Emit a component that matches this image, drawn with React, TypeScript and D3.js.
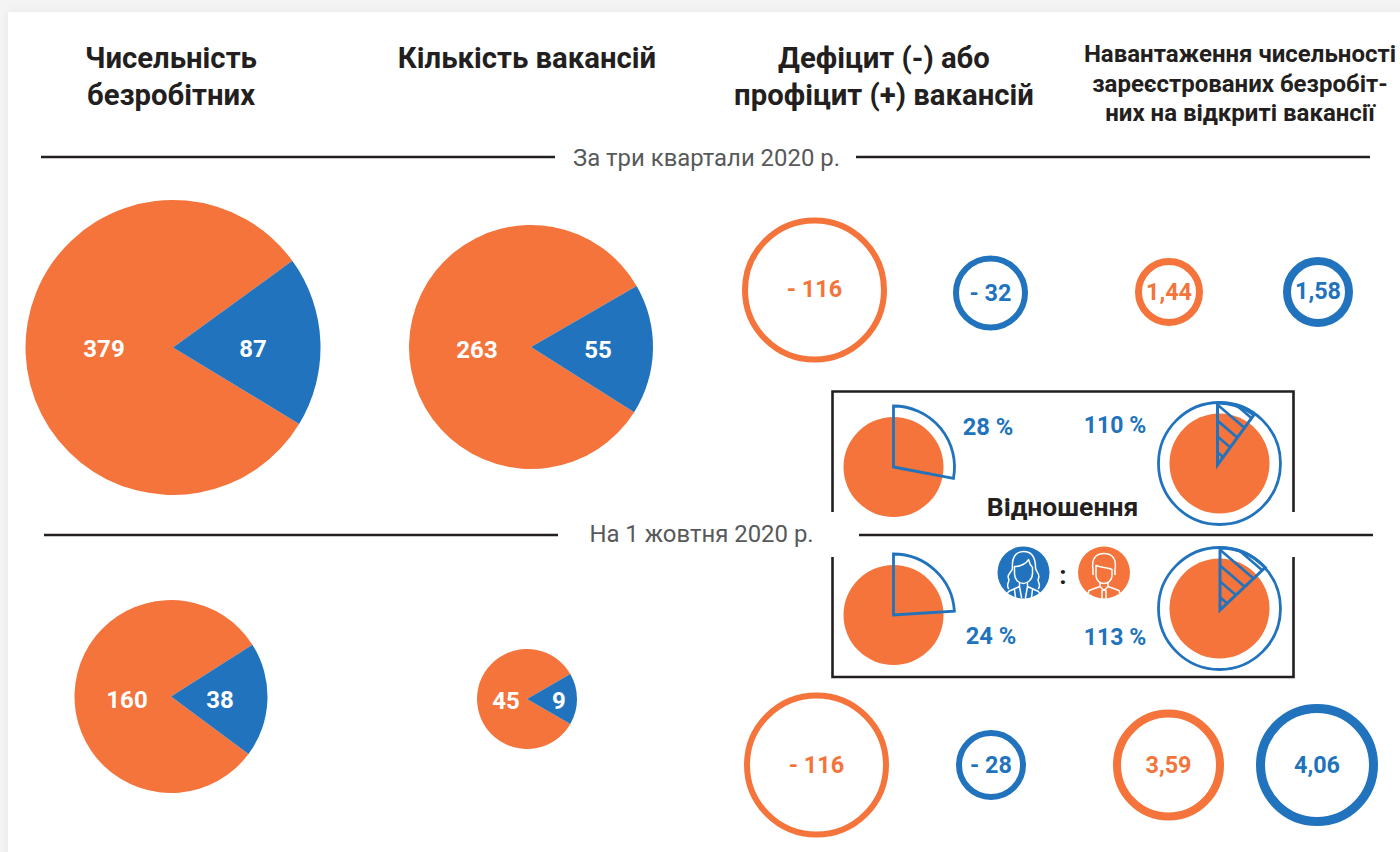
import React from "react";
import * as d3 from "d3";

const ORANGE = "#F4743B";
const BLUE = "#2073BC";
const DARK = "#231F20";
const GREY = "#58595B";
const FONT = "Roboto, sans-serif";

const headers = [
  { lines: ["Чисельність", "безробітних"], x: 171, y: [68, 105], size: 29.3 },
  { lines: ["Кількість вакансій"], x: 527, y: [68], size: 29.3 },
  { lines: ["Дефіцит (-) або", "профіцит (+) вакансій"], x: 884, y: [68, 105], size: 29.3 },
  { lines: ["Навантаження чисельності", "зареєстрованих безробіт-", "них на відкриті вакансії"], x: 1240, y: [62, 92, 121], size: 24 },
];

const pieData = [
  { women: 87, men: 379, cx: 173, cy: 347.5, r: 147.5, start: 54, lm: 104, lw: 253, ly: 357 },
  { women: 55, men: 263, cx: 531, cy: 347, r: 122, start: 60, lm: 477, lw: 598, ly: 358 },
  { women: 38, men: 160, cx: 171, cy: 696.5, r: 96.5, start: 57.5, lm: 127, lw: 220, ly: 708 },
  { women: 9, men: 45, cx: 527, cy: 699, r: 50, start: 60, lm: 506, lw: 559, ly: 709 },
];

const rings = [
  { label: "- 116", color: ORANGE, cx: 814.5, cy: 290, r: 72.5, sw: 6, dy: 7 },
  { label: "- 32", color: BLUE, cx: 990.5, cy: 293, r: 37.5, sw: 6, dy: 8 },
  { label: "1,44", color: ORANGE, cx: 1169, cy: 292, r: 34, sw: 7, dy: 8 },
  { label: "1,58", color: BLUE, cx: 1318, cy: 292, r: 35, sw: 8, dy: 7 },
  { label: "- 116", color: ORANGE, cx: 816.5, cy: 765, r: 72.5, sw: 6, dy: 8 },
  { label: "- 28", color: BLUE, cx: 991, cy: 765, r: 35, sw: 6, dy: 8 },
  { label: "3,59", color: ORANGE, cx: 1168.5, cy: 765, r: 55.5, sw: 8, dy: 8 },
  { label: "4,06", color: BLUE, cx: 1317, cy: 765, r: 61, sw: 9, dy: 8 },
];

const underPercent = [
  { value: 28, cx: 893.5, cy: 467, lx: 988, ly: 435 },
  { value: 24, cx: 893.5, cy: 615, lx: 991, ly: 644 },
];
const overPercent = [
  { value: 110, cx: 1219.5, cy: 463.5, ax: 1217.5, ay: 465, lx: 1115, ly: 433 },
  { value: 113, cx: 1219.5, cy: 608.5, ax: 1220, ay: 610, lx: 1115, ly: 645 },
];

const arcGen = d3.arc();

function Pie({ d }: { d: (typeof pieData)[number] }) {
  const total = d.women + d.men;
  const sweep = (d.women / total) * 360;
  const scale = d3.scaleLinear().domain([0, 360]).range([0, 2 * Math.PI]);
  const a0 = scale(d.start);
  const a1 = scale(d.start + sweep);
  const blue = arcGen({ innerRadius: 0, outerRadius: d.r, startAngle: a0, endAngle: a1 }) as string;
  const orange = arcGen({ innerRadius: 0, outerRadius: d.r, startAngle: a1, endAngle: a0 + 2 * Math.PI }) as string;
  const t = { fill: "#fff", fontWeight: 700, fontSize: 24, textAnchor: "middle" as const };
  return (
    <g>
      <g transform={`translate(${d.cx},${d.cy})`}>
        <path d={orange} fill={ORANGE} />
        <path d={blue} fill={BLUE} />
      </g>
      <text x={d.lm} y={d.ly} {...t}>{d.men}</text>
      <text x={d.lw} y={d.ly} {...t}>{d.women}</text>
    </g>
  );
}

function Under({ d }: { d: (typeof underPercent)[number] }) {
  const end = d3.scaleLinear().domain([0, 100]).range([0, 2 * Math.PI])(d.value);
  const path = arcGen({ innerRadius: 0, outerRadius: 61, startAngle: 0, endAngle: end }) as string;
  return (
    <g>
      <circle cx={d.cx} cy={d.cy} r={50} fill={ORANGE} />
      <path d={path} transform={`translate(${d.cx},${d.cy})`} fill="none" stroke={BLUE} strokeWidth={2.8} />
      <text x={d.lx} y={d.ly} fill={BLUE} fontWeight={700} fontSize={23.7} textAnchor="middle">{d.value} %</text>
    </g>
  );
}

function Over({ d, i }: { d: (typeof overPercent)[number]; i: number }) {
  const extra = d3.scaleLinear().domain([0, 100]).range([0, 2 * Math.PI])(d.value - 100);
  const path = arcGen({ innerRadius: 0, outerRadius: 62, startAngle: 0, endAngle: extra }) as string;
  const id = `clip${i}`;
  const offsets = d3.range(0, 5);
  return (
    <g>
      <circle cx={d.cx} cy={d.cy} r={61} fill="#fff" stroke={BLUE} strokeWidth={2.8} />
      <circle cx={d.cx} cy={d.cy} r={50} fill={ORANGE} />
      <g transform={`translate(${d.ax},${d.ay})`}>
        <clipPath id={id}><path d={path} /></clipPath>
        <g clipPath={`url(#${id})`} stroke={BLUE} strokeWidth={2.6}>
          {offsets.map((k) => (
            <line key={k} x1={0} y1={-76 + k * 15.8} x2={70} y2={-76 + k * 15.8 + 60} />
          ))}
        </g>
        <path d={path} fill="none" stroke={BLUE} strokeWidth={3} />
      </g>
      <text x={d.lx} y={d.ly} fill={BLUE} fontWeight={700} fontSize={23} textAnchor="middle">{d.value} %</text>
    </g>
  );
}

function Woman({ cx, cy }: { cx: number; cy: number }) {
  return (
    <g transform={`translate(${cx},${cy})`}>
      <circle r={26} fill={BLUE} />
      <g fill="none" stroke="#fff" strokeWidth={1.5} strokeLinecap="round" strokeLinejoin="round">
        <path d="M-11,-4 C-12,-16 -7,-21 0,-21 C8,-21 12,-15 12,-5 C12,-1 17,1 15,6 C13,9 18,11 15,16 M-11,-4 C-12,0 -17,2 -15,6 C-13,9 -18,11 -15,16" />
        <path d="M-9,-6 C-3,-6 3,-9 5,-13 C6,-9 8,-6 9,-5 L9,1 C9,7 4,11 0,11 C-5,11 -9,7 -9,1 Z" />
        <path d="M-4,11 L-4,14 L-15,19 L-18,25 M4,11 L4,14 L15,19 L18,25 M-4,14 L-2,25 M4,14 L2,25 M-9,17 L-8,25 M9,17 L8,25" />
      </g>
    </g>
  );
}

function Man({ cx, cy }: { cx: number; cy: number }) {
  return (
    <g transform={`translate(${cx},${cy})`}>
      <circle r={26} fill={ORANGE} />
      <g fill="none" stroke="#fff" strokeWidth={1.5} strokeLinecap="round" strokeLinejoin="round">
        <path d="M-11,-3 C-13,-15 -7,-19 0,-19 C7,-19 13,-15 11,-3 L11,2 M-11,-3 L-11,2" />
        <path d="M-8,-7 C-3,-5 4,-5 8,-3 L8,3 C8,8 4,11 0,11 C-4,11 -8,8 -8,3 Z" />
        <path d="M-4,11 L-4,14 L-15,18 L-17,25 M4,11 L4,14 L15,18 L17,25 M-4,14 L0,18 L4,14 M-2,18 L-2,26 M2,18 L2,26" />
      </g>
    </g>
  );
}

export default function App() {
  return (
    <svg
      width={1400}
      height={852}
      viewBox="0 0 1400 852"
      style={{ position: "absolute", left: 0, top: 0, fontFamily: FONT, background: "#F4F4F4" }}
    >
      <defs>
        <filter id="card" x="-5%" y="-5%" width="110%" height="110%">
          <feGaussianBlur stdDeviation="5" />
        </filter>
      </defs>
      <rect x={8} y={12} width={1400} height={860} fill="#E6E6E6" filter="url(#card)" />
      <rect x={8} y={12} width={1400} height={860} fill="#fff" />

      {headers.map((h, i) =>
        h.lines.map((l, j) => (
          <text key={`${i}-${j}`} x={h.x} y={h.y[j]} fontSize={h.size} fontWeight={700} fill={DARK} textAnchor="middle">{l}</text>
        ))
      )}

      <g stroke={DARK} strokeWidth={2.6}>
        <line x1={41} x2={555} y1={157} y2={157} />
        <line x1={856} x2={1370} y1={157} y2={157} />
        <line x1={44} x2={558} y1={535} y2={535} />
        <line x1={859} x2={1373} y1={535} y2={535} />
      </g>
      <text x={706.5} y={166} fontSize={23.9} fill={GREY} textAnchor="middle">За три квартали 2020 р.</text>
      <text x={701.5} y={542} fontSize={23.9} fill={GREY} textAnchor="middle">На 1 жовтня 2020 р.</text>

      {pieData.map((d, i) => <Pie key={i} d={d} />)}

      {rings.map((d, i) => (
        <g key={i}>
          <circle cx={d.cx} cy={d.cy} r={d.r - d.sw / 2} fill="#fff" stroke={d.color} strokeWidth={d.sw} />
          <text x={d.cx} y={d.cy + d.dy} fontSize={23.4} fontWeight={700} fill={d.color} textAnchor="middle">{d.label}</text>
        </g>
      ))}

      <g fill="none" stroke={DARK} strokeWidth={2.6}>
        <path d="M832.5,512 V391.5 H1293.5 V512" />
        <path d="M832.5,557 V677 H1293.5 V557" />
      </g>

      {underPercent.map((d, i) => <Under key={i} d={d} />)}
      {overPercent.map((d, i) => <Over key={i} d={d} i={i} />)}

      <text x={1062.5} y={516} fontSize={26.5} fontWeight={700} fill={DARK} textAnchor="middle">Відношення</text>
      <Woman cx={1023.5} cy={572.5} />
      <Man cx={1104} cy={572.5} />
      <text x={1063} y={584} fontSize={26} fontWeight={700} fill={DARK} textAnchor="middle">:</text>
    </svg>
  );
}
